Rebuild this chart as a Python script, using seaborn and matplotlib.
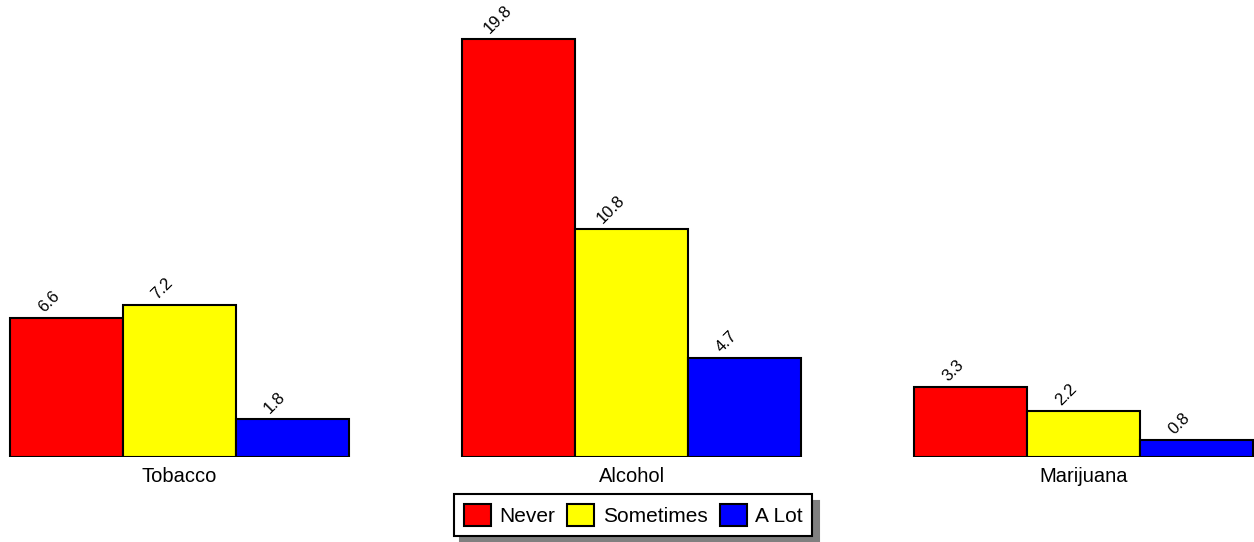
import pandas as pd
import matplotlib.pyplot as plt
import seaborn as sns
from matplotlib.patches import Patch, Shadow

# data
substances = ['Tobacco', 'Alcohol', 'Marijuana']
frequency = ['Never', 'Sometimes', 'A Lot']
never = [6.6, 19.8, 3.3]
sometimes = [7.2, 10.8, 2.2]
a_lot = [1.8, 4.7, 0.8]
colors = ['#ff0000', '#ffff00', '#0000ff']

df = pd.DataFrame({
    'Substance': substances * 3,
    'Frequency': [f for f in frequency for _ in substances],
    'Value': never + sometimes + a_lot,
})

sns.set_style('white')
plt.rcParams['font.family'] = ['Liberation Sans', 'DejaVu Sans']
plt.rcParams['text.color'] = 'black'
plt.rcParams['xtick.color'] = 'black'

fig = plt.figure(figsize=(12.54, 5.42), dpi=100)
ax = fig.add_axes([0, 85 / 542, 1, 457 / 542])

sns.barplot(data=df, x='Substance', y='Value', hue='Frequency',
            hue_order=frequency, order=substances, palette=colors,
            saturation=1, width=0.75, gap=0, edgecolor='black',
            linewidth=1.5, legend=False, ax=ax)

ax.set_xlim(-0.397, 2.377)
ax.set_ylim(0, 21.66)

# rotated value labels above each bar
for container in ax.containers:
    for bar in container:
        h = bar.get_height()
        x = bar.get_x() + bar.get_width() / 2
        ax.annotate(f'{h:.1f}', (x, h), xytext=(-3, 2),
                    textcoords='offset points', rotation=45,
                    ha='right', va='bottom', fontsize=12, color='black')

sns.despine(ax=ax, left=True, bottom=True, top=True, right=True)
ax.set_yticks([])
ax.set_xlabel('')
ax.set_ylabel('')
ax.tick_params(axis='x', length=0, pad=7, labelsize=14.5, labelcolor='black')

handles = [Patch(facecolor=c, edgecolor='black', linewidth=1.5) for c in colors]
leg = fig.legend(handles, frequency, loc='center', bbox_to_anchor=(0.505, 0.0498),
                 ncol=3, frameon=True, fancybox=False, shadow=False,
                 fontsize=15, handlelength=1.3, handleheight=1.3,
                 handletextpad=0.4, columnspacing=0.6, borderpad=0.45,
                 borderaxespad=0, framealpha=1)
leg.get_frame().set_edgecolor('black')
leg.get_frame().set_linewidth(1.5)

# grey drop shadow, offset further than the built-in one
fig.canvas.draw()
shadow = Shadow(leg.get_frame(), 4.5, -4.5, shade=0.5)
shadow.set_alpha(1)
shadow.set_zorder(leg.get_zorder() - 0.1)
fig.add_artist(shadow)

fig.savefig('out.png', dpi=100)
